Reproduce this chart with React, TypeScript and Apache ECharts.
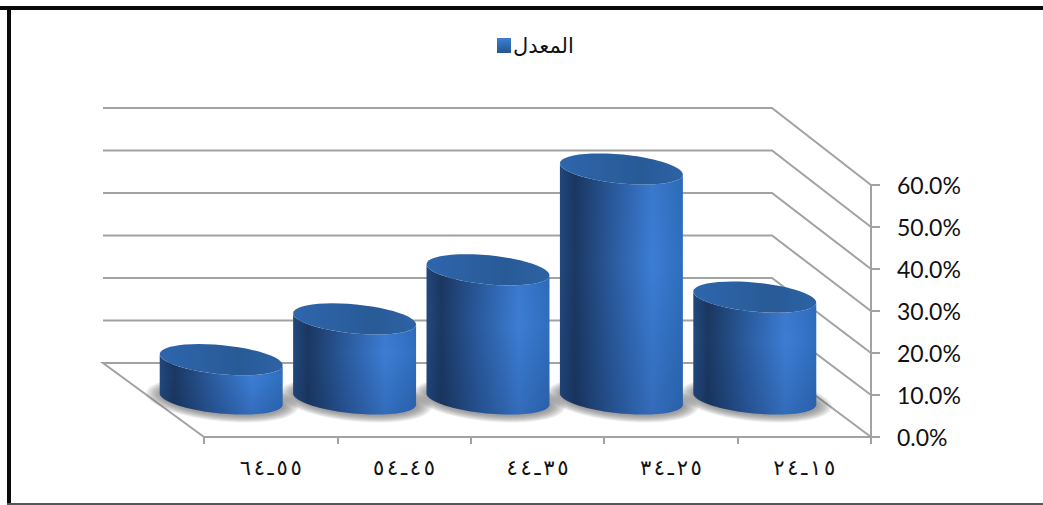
import React, { useEffect, useRef } from "react";
import * as echarts from "echarts";

const categories = ["٥٥ـ٦٤", "٤٥ـ٥٤", "٣٥ـ٤٤", "٢٥ـ٣٤", "١٥ـ٢٤"];
const rates = [9.6, 19.3, 31, 55, 24.5];
const yTicks = [0, 10, 20, 30, 40, 50, 60];
const seriesName = "المعدل";

const DEPTH_X = -99;
const DEPTH_Y = -74;
const GREY = "#a2a2a2";

function ellipsePoints(cx: number, cy: number, rx: number, ry: number, tilt: number, from: number, to: number) {
  const pts: number[][] = [];
  const n = 48;
  for (let i = 0; i <= n; i++) {
    const t = from + ((to - from) * i) / n;
    pts.push([
      cx + rx * Math.cos(t) * Math.cos(tilt) - ry * Math.sin(t) * Math.sin(tilt),
      cy + rx * Math.cos(t) * Math.sin(tilt) + ry * Math.sin(t) * Math.cos(tilt),
    ]);
  }
  return pts;
}

export default function App() {
  const ref = useRef<HTMLDivElement>(null);
  useEffect(() => {
    document.body.style.margin = "0";
    const chart = echarts.init(ref.current!, undefined, { renderer: "svg" });
    const legendFill = new echarts.graphic.LinearGradient(0, 0, 0, 1, [
      { offset: 0, color: "#3f7fd4" },
      { offset: 1, color: "#24558f" },
    ]);
    const sideFill = () =>
      new echarts.graphic.LinearGradient(0, 0, 1, 0, [
        { offset: 0, color: "#22497f" },
        { offset: 0.12, color: "#1b3862" },
        { offset: 0.42, color: "#2a5a9c" },
        { offset: 0.75, color: "#3c7dd4" },
        { offset: 1, color: "#2f6ebe" },
      ]);
    const sideShade = () =>
      new echarts.graphic.LinearGradient(0, 0, 0, 1, [
        { offset: 0, color: "rgba(10,30,70,0.06)" },
        { offset: 0.4, color: "rgba(10,30,70,0)" },
        { offset: 1, color: "rgba(10,30,70,0.18)" },
      ]);
    const topFill = () =>
      new echarts.graphic.LinearGradient(0, 0, 1, 0, [
        { offset: 0, color: "#2e66ad" },
        { offset: 0.65, color: "#285a96" },
        { offset: 1, color: "#2d63a5" },
      ]);
    chart.on("finished", () => {
      ref.current?.querySelectorAll("text").forEach((t) => {
        if (categories.includes(t.textContent || "")) t.setAttribute("textLength", "62");
      });
    });
    chart.setOption({
      animation: false,
      textStyle: { fontFamily: "Lato, 'DejaVu Sans', sans-serif" },
      graphic: [
        { type: "rect", shape: { x: 0, y: 6, width: 1043, height: 4 }, style: { fill: "#0a0a0a" }, z: 100 },
        { type: "rect", shape: { x: 7, y: 6, width: 4, height: 499 }, style: { fill: "#0a0a0a" }, z: 100 },
        { type: "rect", shape: { x: 7, y: 503, width: 1036, height: 2 }, style: { fill: "#555555" }, z: 100 },
      ],
      legend: {
        left: 497,
        top: 35,
        padding: 0,
        data: [{ name: seriesName, icon: "rect", itemStyle: { color: legendFill } }],
        itemWidth: 14,
        itemHeight: 15,
        itemGap: 2,
        textStyle: { fontSize: 21, color: "#111", fontFamily: "'DejaVu Sans', sans-serif", padding: [0, 0, 0, -3] },
      },
      grid: { left: 204, right: 172, top: 185, bottom: 68 },
      xAxis: {
        type: "category",
        data: categories,
        axisLine: { lineStyle: { color: GREY, width: 2 } },
        axisTick: { show: true, length: 7, lineStyle: { color: GREY, width: 2 } },
        axisLabel: { margin: 20, fontSize: 21, color: "#111", fontFamily: "'DejaVu Sans', sans-serif" },
      },
      yAxis: {
        type: "value",
        position: "right",
        min: 0,
        max: 60,
        interval: 10,
        axisLine: { show: true, lineStyle: { color: GREY, width: 2 } },
        axisTick: { show: true, length: 9, lineStyle: { color: GREY, width: 2 } },
        axisLabel: { margin: 26, fontSize: 23, color: "#111", formatter: (v: number) => `${v.toFixed(1)}%` },
        splitLine: { show: false },
      },
      series: [
        {
          type: "custom",
          name: "walls",
          silent: true,
          z: 1,
          data: yTicks.map((v) => [v]),
          encode: { y: 0 },
          renderItem: (_p: any, api: any) => {
            const v = api.value(0);
            const bw = api.size([1, 0])[0];
            const front = api.coord([4, v]);
            const xR = front[0] + bw / 2;
            const xL = api.coord([0, v])[0] - bw / 2;
            const yF = front[1];
            const yBase = api.coord([0, 0])[1];
            const yB = yBase + DEPTH_Y - (yBase - yF) * 1.012;
            const pts = [
              [xR, yF],
              [xR + DEPTH_X, yB],
              [xL + DEPTH_X - 2, yB],
            ];
            if (v === 0) pts.push([xL, yF]);
            return { type: "polyline", shape: { points: pts }, style: { stroke: GREY, lineWidth: 2, fill: "none" } };
          },
        },
        {
          type: "custom",
          name: seriesName,
          z: 2,
          itemStyle: { color: legendFill },
          data: rates.map((v, i) => [i, v]),
          encode: { x: 0, y: 1 },
          renderItem: (_p: any, api: any) => {
            const bw = api.size([1, 0])[0];
            const base = api.coord([api.value(0), 0]);
            const top = api.coord([api.value(0), api.value(1)]);
            const cx = base[0] + DEPTH_X / 2;
            const yBase = base[1] + DEPTH_Y / 2 - 1;
            const yTop = top[1] + DEPTH_Y / 2;
            const rx = bw * 0.463;
            const ry = rx * 0.235;
            const tilt = (5.5 * Math.PI) / 180;
            const side = [
              ...ellipsePoints(cx, yTop, rx, ry, tilt, Math.PI, 0),
              ...ellipsePoints(cx, yBase, rx, ry, tilt, 0, Math.PI),
            ];
            const shadow = Array.from({ length: 12 }, (_, k) => ({
              type: "polygon",
              shape: { points: ellipsePoints(cx + 1, yBase + 1, rx + 15 - k * 1.3, ry + 7 - k * 0.6, tilt, 0, Math.PI * 2) },
              style: { fill: "rgba(95,95,95,0.07)" },
            }));
            return {
              type: "group",
              children: [
                ...shadow,
                { type: "polygon", shape: { points: side }, style: { fill: sideFill() } },
                { type: "polygon", shape: { points: side }, style: { fill: sideShade() } },
                {
                  type: "polygon",
                  shape: { points: ellipsePoints(cx, yTop, rx, ry, tilt, 0, Math.PI * 2) },
                  style: { fill: topFill() },
                },
              ],
            };
          },
        },
      ],
    });
    return () => chart.dispose();
  }, []);
  return <div ref={ref} style={{ width: 1043, height: 505 }} />;
}
